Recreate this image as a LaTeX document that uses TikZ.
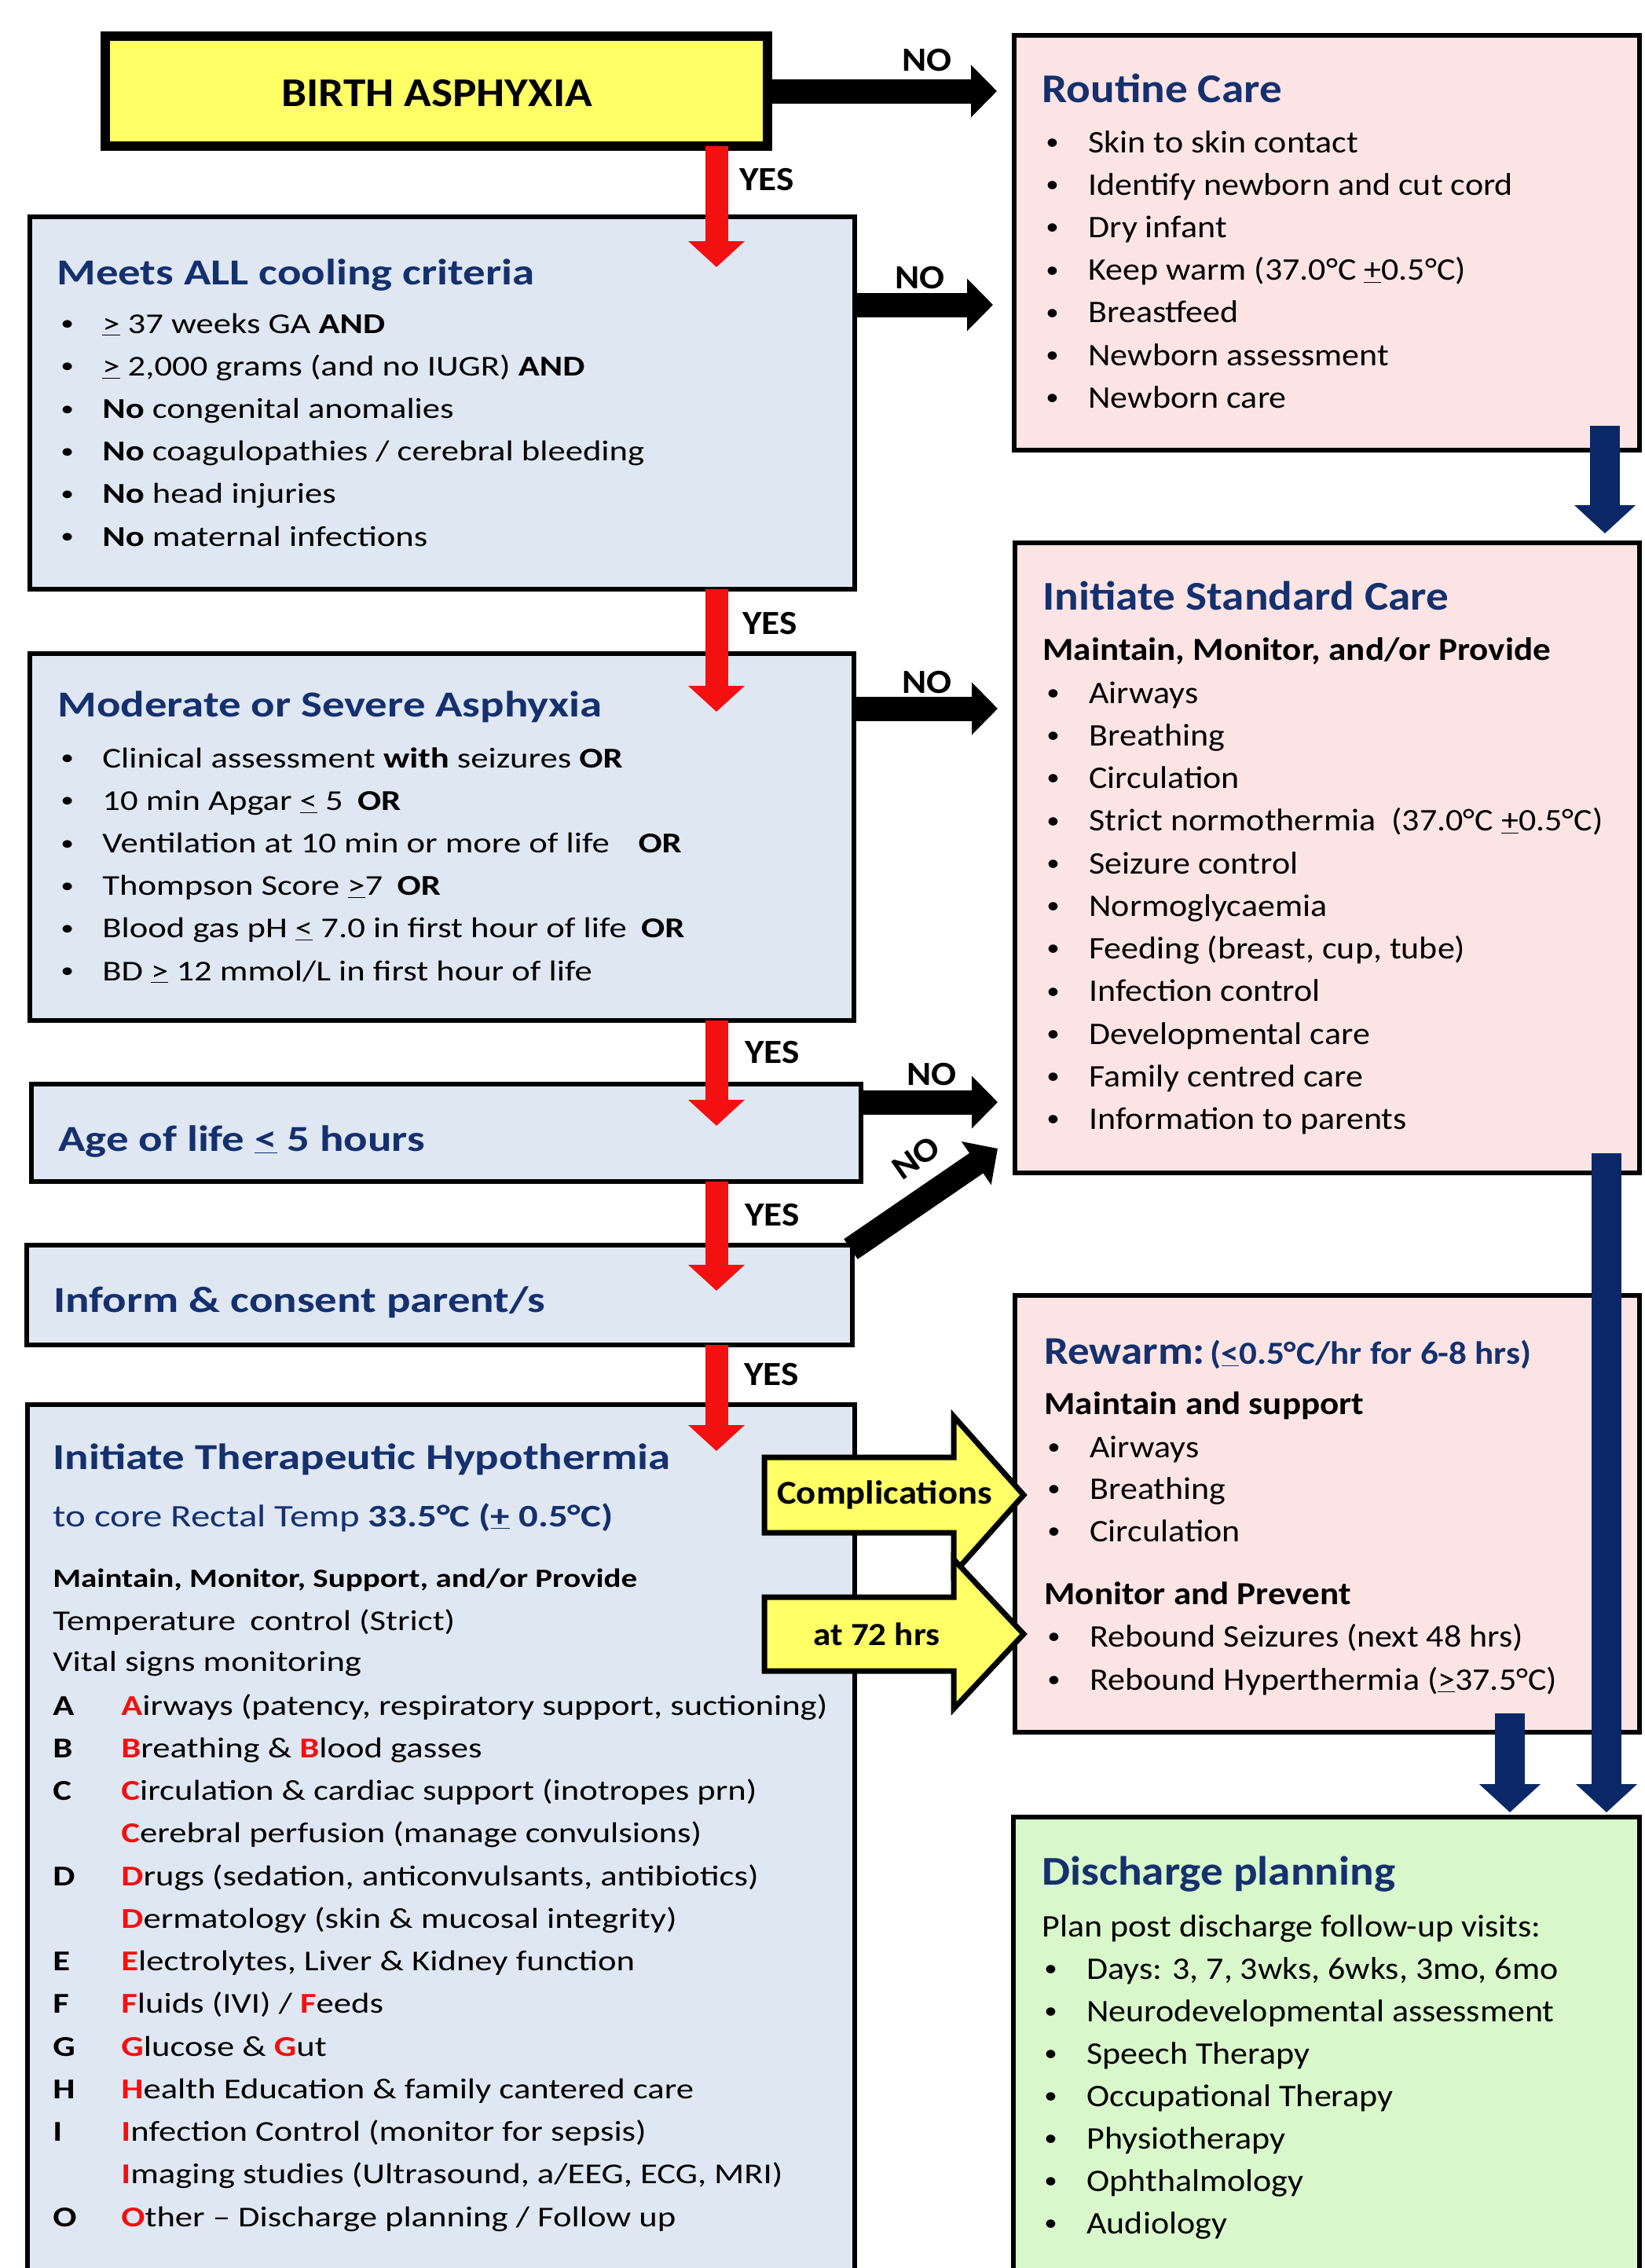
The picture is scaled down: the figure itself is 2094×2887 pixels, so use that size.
\documentclass[tikz,border=0pt]{standalone}
\usepackage{fontspec}
\usepackage{graphicx}
\setmainfont{Carlito}[FakeStretch=1.1]
\newfontfamily\lf{Carlito}[FakeStretch=1.22]
\usetikzlibrary{arrows.meta,calc}
\definecolor{tnavy}{HTML}{14306E}
\definecolor{anavy}{HTML}{0A2868}
\definecolor{yelfill}{HTML}{FFFF66}
\definecolor{pinkfill}{HTML}{FDE4E4}
\definecolor{bluefill}{HTML}{DFE7F2}
\definecolor{greenfill}{HTML}{D8F7CB}
\definecolor{redarr}{HTML}{F21010}
\newcommand\smbul{\raisebox{0.09em}{\scalebox{0.75}{•}}}
\newcommand\rbul[1]{\makebox[27pt][l]{\smbul}#1}
\newcommand\lbul[1]{\makebox[26.5pt][l]{\smbul}#1}
\newcommand\lrow[2]{\makebox[43.5pt][l]{\textbf{#1}}#2}
\newcommand\rl[1]{\textcolor{redarr}{\textbf{#1}}}
\begin{document}
\begin{tikzpicture}[x=0.5pt,y=-0.5pt,
  bx/.style={draw=black, line width=3pt, rectangle, inner sep=0pt, outer sep=0pt},
  rbody/.style={font=\fontsize{20}{24}\selectfont, inner sep=0pt, anchor=base west},
  rsub/.style={font=\fontsize{20.5}{24}\selectfont\bfseries, inner sep=0pt, anchor=base west},
  rtitle/.style={font=\fontsize{26}{30}\selectfont\bfseries, text=tnavy, inner sep=0pt, anchor=base west},
  lbody/.style={font=\lf\fontsize{18.3}{22}\selectfont, inner sep=0pt, anchor=base west},
  ltitle/.style={font=\lf\fontsize{23.3}{27}\selectfont\bfseries, text=tnavy, inner sep=0pt, anchor=base west},
  ynlab/.style={font=\fontsize{21.5}{25}\selectfont\bfseries, inner sep=0pt},
  yarrow/.style={draw=black, line width=3.5pt, fill=yelfill, line join=miter},
  redarrow/.style={draw=redarr, line width=14.5pt, -{Triangle[length=16.5pt,width=35pt]}},
  blackarrow/.style={draw=black, line width=15.5pt, -{Triangle[length=16.5pt,width=32.5pt]}},
  navyarrow/.style={draw=anavy, line width=19pt, -{Triangle[length=18pt,width=38pt]}}
]
\useasboundingbox (0,0) rectangle (2094,2887);
\fill[white] (0,0) rectangle (2094,2887);
\begin{scope}
\clip (0,0) rectangle (2094,2887);
% ---------- boxes
\node[bx, line width=6pt, fill=yelfill, minimum width=421.5pt, minimum height=70pt] (bA) at (555.5,116) {};
\node[bx, fill=pinkfill, minimum width=398pt, minimum height=264pt] (bRC) at (1689,309) {};
\node[bx, fill=bluefill, minimum width=525pt, minimum height=237pt] (bMeets) at (563,513) {};
\node[bx, fill=bluefill, minimum width=524.5pt, minimum height=233.5pt] (bMod) at (562.5,1065.5) {};
\node[bx, fill=bluefill, minimum width=528pt, minimum height=62pt] (bAge) at (568,1442) {};
\node[bx, fill=bluefill, minimum width=525.5pt, minimum height=63.5pt] (bInf) at (559.5,1648.5) {};
\node[bx, fill=bluefill, minimum width=526.5pt, minimum height=581pt] (bTH) at (561.5,2369) {};
\node[bx, fill=pinkfill, minimum width=397.5pt, minimum height=401pt] (bSC) at (1689.5,1092) {};
\node[bx, fill=pinkfill, minimum width=397.5pt, minimum height=278pt] (bRW) at (1689.5,1927) {};
\node[bx, fill=greenfill, minimum width=398.5pt, minimum height=318.5pt] (bDC) at (1688.5,2631.5) {};
% ---------- yellow block arrows
\draw[yarrow] (973,1855) -- (1214,1855) -- (1214,1803) -- (1303,1903) -- (1214,2003) -- (1214,1951) -- (973,1951) -- cycle;
\draw[yarrow] (973,2033) -- (1214,2033) -- (1214,1985) -- (1303,2080) -- (1214,2175) -- (1214,2127) -- (973,2127) -- cycle;
\node[ynlab, font=\fontsize{21.2}{24}\selectfont\bfseries] (lcomp) at (1126,1903) {Complications};
\node[ynlab, font=\fontsize{20.5}{24}\selectfont\bfseries] (l72) at (1116,2080) {at 72 hrs};
% ---------- red YES arrows
\coordinate (rx) at (912,0);
\draw[redarrow] (bA.south -| rx) -- ($(bMeets.north -| rx)+(0,64)$);
\draw[redarrow] (bMeets.south -| rx) -- ($(bMod.north -| rx)+(0,74)$);
\draw[redarrow] (bMod.south -| rx) -- ($(bAge.north -| rx)+(0,53)$);
\draw[redarrow] (bAge.south -| rx) -- ($(bInf.north -| rx)+(0,58)$);
\draw[redarrow] (bInf.south -| rx) -- ($(bTH.north -| rx)+(0,59)$);
\node[ynlab] (y1) at (976,229) {YES};
\node[ynlab] (y2) at (980,794) {YES};
\node[ynlab] (y3) at (983,1340) {YES};
\node[ynlab] (y4) at (983,1547) {YES};
\node[ynlab] (y5) at (982,1750) {YES};
% ---------- black NO arrows
\draw[blackarrow] (bA.east) -- ($(bRC.west |- bA.east)+(-22,0)$);
\draw[blackarrow] ($(bMeets.north east)+(0,112)$) -- ($(bSC.west |- bMeets.north east)+(-28,112)$);
\draw[blackarrow] ($(bMod.north east)+(0,70)$) -- ($(bSC.west |- bMod.north east)+(-22,70)$);
\draw[blackarrow] ($(bAge.north east)+(0,23)$) -- ($(bSC.west |- bAge.north east)+(-22,23)$);
\draw[blackarrow] ($(bInf.north east)+(-2,5)$) -- ($(bSC.south west)+(-22,-31)$);
\node[ynlab] (n1) at (1180,77) {NO};
\node[ynlab] (n2) at (1171,354) {NO};
\node[ynlab] (n3) at (1180,869) {NO};
\node[ynlab] (n4) at (1186,1368) {NO};
\node[ynlab, rotate=35] (n5) at (1166,1474) {NO};
% ---------- navy arrows
\draw[navyarrow] ($(bRC.south east)+(-44,-31)$) -- ($(bSC.north east)+(-44,-12)$);
\draw[navyarrow] ($(bSC.south east)+(-42,-25)$) -- ($(bDC.north east)+(-42,-6)$);
\draw[navyarrow] ($(bRW.south east)+(-165,-24)$) -- ($(bDC.north east)+(-165,-6)$);
% ---------- Birth asphyxia
\node[font=\fontsize{26}{30}\selectfont\bfseries, inner sep=0pt, anchor=base] (tA) at (556,135) {BIRTH ASPHYXIA};
% ---------- Routine care
\node[rtitle] (tRC) at (1326,130) {Routine Care};
\foreach \txt [count=\i from 0] in {{Skin to skin contact},{Identify newborn and cut cord},{Dry infant},{Keep warm (37.0°C \underline{+}0.5°C)},{Breastfeed},{Newborn assessment},{Newborn care}}
  \node[rbody] (rc\i) at (1331,194+54.2*\i) {\rbul{\txt}};
% ---------- Standard care
\node[rtitle] (tSC) at (1327,776) {Initiate Standard Care};
\node[rsub] (sSC) at (1327,840) {Maintain, Monitor, and/or Provide};
\foreach \txt [count=\i from 0] in {{Airways},{Breathing},{Circulation},{Strict normothermia\enspace(37.0°C \underline{+}0.5°C)},{Seizure control},{Normoglycaemia},{Feeding (breast, cup, tube)},{Infection control},{Developmental care},{Family centred care},{Information to parents}}
  \node[rbody] (sc\i) at (1332,895+54.25*\i) {\rbul{\txt}};
% ---------- Rewarm
\node[rtitle, font=\bfseries] (tRW) at (1329,1736) {{\fontsize{25}{30}\selectfont Rewarm:} {\fontsize{20.5}{24}\selectfont(\underline{<}0.5°C/hr for 6-8 hrs)}};
\node[rsub] (sRW1) at (1329,1800) {Maintain and support};
\foreach \txt [count=\i from 0] in {{Airways},{Breathing},{Circulation}}
  \node[rbody] (rw\i) at (1333,1855+53.5*\i) {\rbul{\txt}};
\node[rsub] (sRW2) at (1329,2042) {Monitor and Prevent};
\node[rbody] (rw3) at (1333,2096) {\rbul{Rebound Seizures (next 48 hrs)}};
\node[rbody] (rw4) at (1333,2151) {\rbul{Rebound Hyperthermia (\underline{>}37.5°C)}};
% ---------- Discharge
\node[rtitle] (tDC) at (1326,2399) {Discharge planning};
\node[rbody] (sDC) at (1326,2465) {Plan post discharge follow-up visits:};
\foreach \txt [count=\i from 0] in {{Days: 3, 7, 3wks, 6wks, 3mo, 6mo},{Neurodevelopmental assessment},{Speech Therapy},{Occupational Therapy},{Physiotherapy},{Ophthalmology},{Audiology}}
  \node[rbody] (dc\i) at (1329,2519+54*\i) {\rbul{\txt}};
% ---------- Meets
\node[ltitle] (tMeets) at (72,362) {Meets ALL cooling criteria};
\foreach \txt [count=\i from 0] in {{\underline{>} 37 weeks GA \textbf{AND}},{\underline{>} 2,000 grams (and no IUGR) \textbf{AND}},{\textbf{No} congenital anomalies},{\textbf{No} coagulopathies / cerebral bleeding},{\textbf{No} head injuries},{\textbf{No} maternal infections}}
  \node[lbody] (me\i) at (77,424+54.2*\i) {\lbul{\txt}};
% ---------- Moderate
\node[ltitle] (tMod) at (73,912) {Moderate or Severe Asphyxia};
\foreach \txt [count=\i from 0] in {{Clinical assessment \textbf{with} seizures \textbf{OR}},{10 min Apgar \underline{<} 5\enspace\textbf{OR}},{Ventilation at 10 min or more of life\quad\textbf{OR}},{Thompson Score \underline{>}7\enspace\textbf{OR}},{Blood gas pH \underline{<} 7.0 in first hour of life\enspace\textbf{OR}},{BD \underline{>} 12 mmol/L in first hour of life}}
  \node[lbody] (mo\i) at (77,977+54.2*\i) {\lbul{\txt}};
% ---------- Age / Inform
\node[ltitle] (tAge) at (74,1465) {Age of life \underline{<} 5 hours};
\node[ltitle] (tInf) at (68,1670) {Inform \& consent parent/s};
% ---------- Therapeutic hypothermia
\node[ltitle] (tTH) at (67,1870) {Initiate Therapeutic Hypothermia};
\node[lbody, text=tnavy, font=\lf\fontsize{20}{24}\selectfont] (sTH1) at (67,1943) {to core Rectal Temp \textbf{33.5°C (\underline{+} 0.5°C)}};
\node[lbody, font=\lf\fontsize{16.8}{20}\selectfont\bfseries] (sTH2) at (67,2020) {Maintain, Monitor, Support, and/or Provide};
\node[lbody] (sTH3) at (67,2075) {Temperature\enspace control (Strict)};
\node[lbody] (sTH4) at (67,2127) {Vital signs monitoring};
\foreach \txt [count=\i from 0] in {
  {\lrow{A}{\rl{A}irways (patency, respiratory support, suctioning)}},
  {\lrow{B}{\rl{B}reathing \& \rl{B}lood gasses}},
  {\lrow{C}{\rl{C}irculation \& cardiac support (inotropes prn)}},
  {\lrow{}{\rl{C}erebral perfusion (manage convulsions)}},
  {\lrow{D}{\rl{D}rugs (sedation, anticonvulsants, antibiotics)}},
  {\lrow{}{\rl{D}ermatology (skin \& mucosal integrity)}},
  {\lrow{E}{\rl{E}lectrolytes, Liver \& Kidney function}},
  {\lrow{F}{\rl{F}luids (IVI) / \rl{F}eeds}},
  {\lrow{G}{\rl{G}lucose \& \rl{G}ut}},
  {\lrow{H}{\rl{H}ealth Education \& family cantered care}},
  {\lrow{I}{\rl{I}nfection Control (monitor for sepsis)}},
  {\lrow{}{\rl{I}maging studies (Ultrasound, a/EEG, ECG, MRI)}},
  {\lrow{O}{\rl{O}ther – Discharge planning / Follow up}}}
  \node[lbody] (th\i) at (67,2183+54.25*\i) {\txt};
\end{scope}
\end{tikzpicture}
\end{document}
